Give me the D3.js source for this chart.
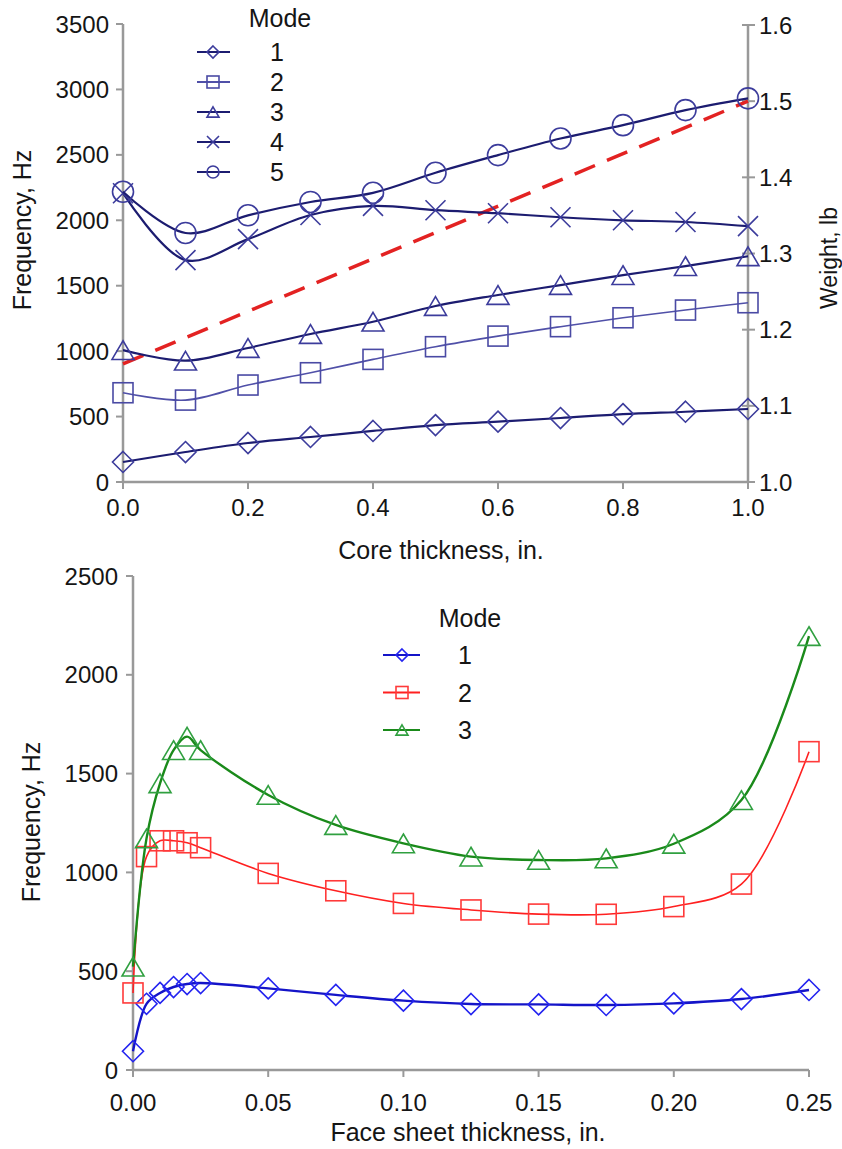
<!DOCTYPE html>
<html lang="en">
<head>
<meta charset="UTF-8">
<title>Frequency vs core and face sheet thickness</title>
<script src="https://d3js.org/d3.v7.min.js"></script>
<style>
  body { margin: 0; background: #fff; }
  text { font-family: "Liberation Sans", Arial, sans-serif; fill: #151515; }
</style>
</head>
<body>
<svg id="chart" width="842" height="1149"></svg>
<script>
// ---- data: top panel (core thickness) ----
const coreX = [0, 0.1, 0.2, 0.3, 0.4, 0.5, 0.6, 0.7, 0.8, 0.9, 1.0];
const coreMode1 = [153, 229, 298, 344, 390, 435, 461, 489, 519, 537, 558];
const coreMode2 = [682, 626, 741, 835, 937, 1034, 1115, 1187, 1255, 1314, 1370];
const coreMode3 = [1008, 927, 1024, 1131, 1225, 1345, 1429, 1505, 1581, 1650, 1725];
const coreMode4 = [2207, 1696, 1856, 2040, 2110, 2077, 2054, 2023, 2000, 1987, 1955];
const coreMode5 = [2218, 1903, 2038, 2140, 2210, 2363, 2498, 2625, 2727, 2842, 2932];
const weightX = [0, 1.0];
const weightLb = [1.155, 1.5];
const coreTicks = [0, 0.2, 0.4, 0.6, 0.8, 1.0];
const freqTicksTop = [0, 500, 1000, 1500, 2000, 2500, 3000, 3500];
const weightTicks = [1.0, 1.1, 1.2, 1.3, 1.4, 1.5, 1.6];

// ---- data: bottom panel (face sheet thickness) ----
const faceX = [0, 0.005, 0.01, 0.015, 0.02, 0.025, 0.05, 0.075, 0.1, 0.125, 0.15, 0.175, 0.2, 0.225, 0.25];
const faceMode1 = [95, 335, 390, 420, 435, 440, 413, 380, 351, 334, 332, 329, 337, 359, 405];
const faceMode2 = [390, 1080, 1160, 1160, 1150, 1125, 995, 907, 843, 810, 789, 788, 827, 941, 1611];
const faceMode3 = [523, 1172, 1451, 1619, 1687, 1619, 1392, 1240, 1147, 1080, 1063, 1071, 1145, 1366, 2196];
const faceTicks = [0, 0.05, 0.10, 0.15, 0.20, 0.25];
const freqTicksBottom = [0, 500, 1000, 1500, 2000, 2500];

const modeLabels = ["1", "2", "3", "4", "5"];

const svg = d3.select("#chart");
const axisColor = "#999";
const tickSize = 24;   // tick labels
const titleSize = 25;  // axis titles and legend

// marker drawing helper
function marker(g, type, x, y, color, size) {
  const s = size / 2;
  if (type === "circle") {
    g.append("circle").attr("cx", x).attr("cy", y).attr("r", s)
      .attr("fill", "none").attr("stroke", color).attr("stroke-width", 1.6);
  } else if (type === "square") {
    g.append("rect").attr("x", x - s).attr("y", y - s).attr("width", size).attr("height", size)
      .attr("fill", "none").attr("stroke", color).attr("stroke-width", 1.6);
  } else if (type === "diamond") {
    g.append("path").attr("d", `M${x},${y - s}L${x + s},${y}L${x},${y + s}L${x - s},${y}Z`)
      .attr("fill", "none").attr("stroke", color).attr("stroke-width", 1.6);
  } else if (type === "triangle") {
    const h = size * 0.85;
    g.append("path").attr("d", `M${x},${y - h / 2}L${x + s},${y + h / 2}L${x - s},${y + h / 2}Z`)
      .attr("fill", "none").attr("stroke", color).attr("stroke-width", 1.6);
  } else if (type === "x") {
    g.append("path").attr("d", `M${x - s},${y - s}L${x + s},${y + s}M${x - s},${y + s}L${x + s},${y - s}`)
      .attr("fill", "none").attr("stroke", color).attr("stroke-width", 1.6);
  }
}

function drawAxisLine(x1, y1, x2, y2) {
  svg.append("line").attr("x1", x1).attr("y1", y1).attr("x2", x2).attr("y2", y2)
    .attr("stroke", axisColor).attr("stroke-width", 2.5);
}

// ================= TOP PANEL =================
const xTop = d3.scaleLinear().domain([0, 1]).range([123, 748]);
const yTop = d3.scaleLinear().domain([0, 3500]).range([482, 24]);
const yWeight = d3.scaleLinear().domain([1.0, 1.6]).range([482, 25]);

drawAxisLine(123, 24, 123, 482);
drawAxisLine(123, 482, 748, 482);
drawAxisLine(748, 25, 748, 482);

freqTicksTop.forEach(t => {
  svg.append("line").attr("x1", 116).attr("x2", 123).attr("y1", yTop(t)).attr("y2", yTop(t))
    .attr("stroke", axisColor).attr("stroke-width", 2);
  svg.append("text").attr("x", 109).attr("y", yTop(t)).attr("dy", "0.36em")
    .attr("text-anchor", "end").attr("font-size", tickSize).text(t);
});
coreTicks.forEach(t => {
  svg.append("line").attr("x1", xTop(t)).attr("x2", xTop(t)).attr("y1", 482).attr("y2", 489)
    .attr("stroke", axisColor).attr("stroke-width", 2);
  svg.append("text").attr("x", xTop(t)).attr("y", 516)
    .attr("text-anchor", "middle").attr("font-size", tickSize).text(d3.format(".1f")(t));
});
weightTicks.forEach(t => {
  svg.append("line").attr("x1", 742).attr("x2", 755).attr("y1", yWeight(t)).attr("y2", yWeight(t))
    .attr("stroke", axisColor).attr("stroke-width", 2);
  svg.append("text").attr("x", 759).attr("y", yWeight(t)).attr("dy", "0.36em")
    .attr("text-anchor", "start").attr("font-size", tickSize).text(d3.format(".1f")(t));
});

svg.append("text").attr("transform", "translate(31,230) rotate(-90)")
  .attr("text-anchor", "middle").attr("font-size", titleSize).text("Frequency, Hz");
svg.append("text").attr("transform", "translate(837,258) rotate(-90)")
  .attr("text-anchor", "middle").attr("font-size", 23).text("Weight, lb");
svg.append("text").attr("x", 441).attr("y", 559)
  .attr("text-anchor", "middle").attr("font-size", titleSize).text("Core thickness, in.");

const topSeries = [
  { values: coreMode1, marker: "diamond", line: "#1c1c70", width: 2.2, mcolor: "#3c3c9c", size: 21 },
  { values: coreMode2, marker: "square", line: "#5050a8", width: 1.6, mcolor: "#4a4aa4", size: 20 },
  { values: coreMode3, marker: "triangle", line: "#1c1c70", width: 2.2, mcolor: "#3c3c9c", size: 22 },
  { values: coreMode4, marker: "x", line: "#1c1c70", width: 2.2, mcolor: "#3c3c9c", size: 20 },
  { values: coreMode5, marker: "circle", line: "#1c1c70", width: 2.2, mcolor: "#3c3c9c", size: 21 }
];

const lineTop = d3.line().curve(d3.curveCatmullRom.alpha(0.5))
  .x(d => xTop(d[0])).y(d => yTop(d[1]));

// weight dashed line
svg.append("path")
  .attr("d", d3.line().x(d => xTop(d[0])).y(d => yWeight(d[1]))(d3.zip(weightX, weightLb)))
  .attr("fill", "none").attr("stroke", "#e32222").attr("stroke-width", 3.5)
  .attr("stroke-dasharray", "22,13");

topSeries.forEach(s => {
  const pts = d3.zip(coreX, s.values);
  svg.append("path").attr("d", lineTop(pts)).attr("fill", "none")
    .attr("stroke", s.line).attr("stroke-width", s.width);
  const g = svg.append("g");
  pts.forEach(p => marker(g, s.marker, xTop(p[0]), yTop(p[1]), s.mcolor, s.size));
});

// top legend
svg.append("text").attr("x", 280).attr("y", 27).attr("text-anchor", "middle")
  .attr("font-size", titleSize).text("Mode");
topSeries.forEach((s, i) => {
  const ly = 52 + i * 30;
  svg.append("line").attr("x1", 197).attr("x2", 230).attr("y1", ly).attr("y2", ly)
    .attr("stroke", s.line).attr("stroke-width", 1.8);
  marker(svg.append("g"), s.marker, 213, ly, s.mcolor, 12);
  svg.append("text").attr("x", 277).attr("y", ly).attr("dy", "0.36em")
    .attr("text-anchor", "middle").attr("font-size", titleSize).text(modeLabels[i]);
});

// ================= BOTTOM PANEL =================
const xBot = d3.scaleLinear().domain([0, 0.25]).range([133, 809]);
const yBot = d3.scaleLinear().domain([0, 2500]).range([1070, 576]);

drawAxisLine(133, 576, 133, 1070);
drawAxisLine(133, 1070, 809, 1070);

freqTicksBottom.forEach(t => {
  svg.append("line").attr("x1", 126).attr("x2", 133).attr("y1", yBot(t)).attr("y2", yBot(t))
    .attr("stroke", axisColor).attr("stroke-width", 2);
  svg.append("text").attr("x", 118).attr("y", yBot(t)).attr("dy", "0.36em")
    .attr("text-anchor", "end").attr("font-size", tickSize).text(t);
});
faceTicks.forEach(t => {
  svg.append("line").attr("x1", xBot(t)).attr("x2", xBot(t)).attr("y1", 1070).attr("y2", 1077)
    .attr("stroke", axisColor).attr("stroke-width", 2);
  svg.append("text").attr("x", xBot(t)).attr("y", 1111)
    .attr("text-anchor", "middle").attr("font-size", tickSize).text(d3.format(".2f")(t));
});

svg.append("text").attr("transform", "translate(40,822) rotate(-90)")
  .attr("text-anchor", "middle").attr("font-size", titleSize).text("Frequency, Hz");
svg.append("text").attr("x", 468).attr("y", 1141)
  .attr("text-anchor", "middle").attr("font-size", titleSize).text("Face sheet thickness, in.");

const botSeries = [
  { values: faceMode1, marker: "diamond", line: "#1414c8", width: 2.4, mcolor: "#2424f0", size: 21 },
  { values: faceMode2, marker: "square", line: "#ff2020", width: 1.6, mcolor: "#ff3a3a", size: 20 },
  { values: faceMode3, marker: "triangle", line: "#1a8a1a", width: 2.4, mcolor: "#30a040", size: 22 }
];

const lineBot = d3.line().curve(d3.curveCatmullRom.alpha(0.5))
  .x(d => xBot(d[0])).y(d => yBot(d[1]));

botSeries.forEach(s => {
  const pts = d3.zip(faceX, s.values);
  svg.append("path").attr("d", lineBot(pts)).attr("fill", "none")
    .attr("stroke", s.line).attr("stroke-width", s.width);
  const g = svg.append("g");
  pts.forEach(p => marker(g, s.marker, xBot(p[0]), yBot(p[1]), s.mcolor, s.size));
});

// bottom legend
svg.append("text").attr("x", 470).attr("y", 627).attr("text-anchor", "middle")
  .attr("font-size", titleSize).text("Mode");
botSeries.forEach((s, i) => {
  const ly = 655 + i * 37.5;
  svg.append("line").attr("x1", 383).attr("x2", 420).attr("y1", ly).attr("y2", ly)
    .attr("stroke", s.line).attr("stroke-width", 1.8);
  marker(svg.append("g"), s.marker, 402, ly, s.mcolor, 12);
  svg.append("text").attr("x", 465).attr("y", ly).attr("dy", "0.36em")
    .attr("text-anchor", "middle").attr("font-size", titleSize).text(modeLabels[i]);
});
</script>
</body>
</html>
